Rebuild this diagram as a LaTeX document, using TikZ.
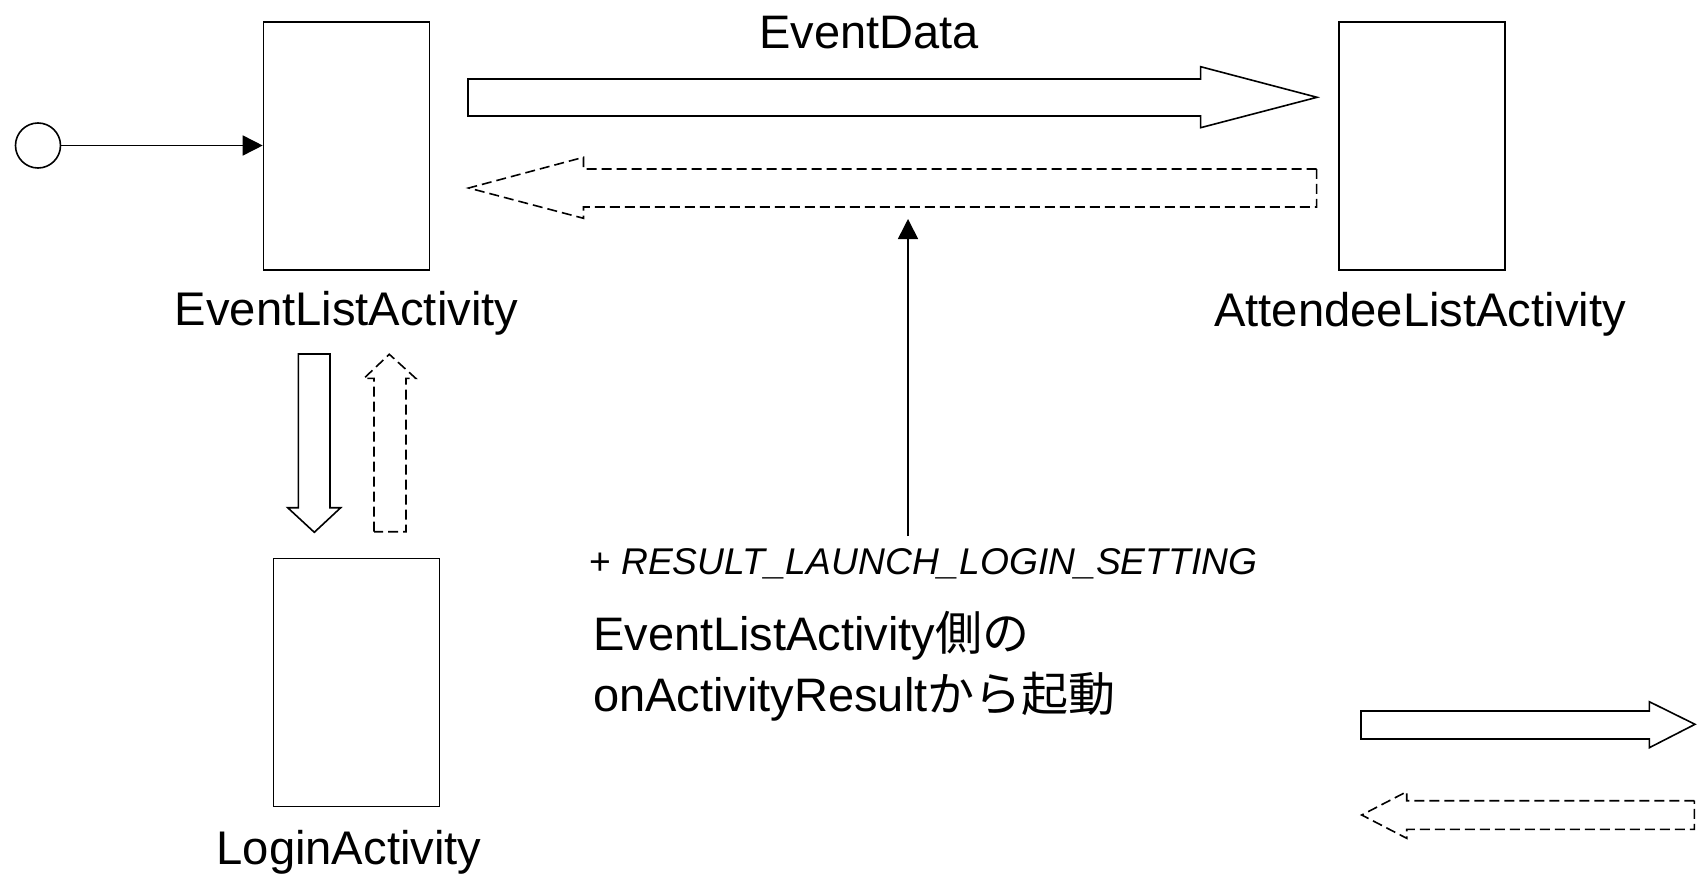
\documentclass[tikz,border=0pt]{standalone}
\usepackage{fontspec}
\setmainfont{Liberation Sans}
\newfontfamily\jp{Noto Sans CJK JP}
\usetikzlibrary{arrows.meta}
\tikzset{
  actbox/.style={draw, line width=1.6pt, minimum width=166pt, minimum height=248pt, inner sep=0pt},
  biglabel/.style={anchor=base, inner sep=0pt, font=\fontsize{47.2}{56}\selectfont},
  fatarrow/.style={draw, line width=1.6pt, line join=miter},
  fatback/.style={draw, line width=1.6pt, dash pattern=on 10pt off 5pt},
  thinarrow/.style={line width=1.6pt, -{Triangle[length=20pt,width=20pt]}},
}
\begin{document}
\begin{tikzpicture}[x=1pt,y=-1pt]
\useasboundingbox (0,0) rectangle (1699,875);

% start state
\node[draw, circle, line width=1.6pt, minimum size=45pt, inner sep=0pt] (start) at (38,145.5) {};

% activity boxes
\node[actbox] (elA) at (346.5,145.8) {};
\node[actbox] (alA) at (1422,145.8) {};
\node[actbox] (loginA) at (356.3,682.5) {};

% labels
\node[biglabel] (elAlabel) at (346.5,325) {EventListActivity};
\node[biglabel] (alAlabel) at (1420,326) {AttendeeListActivity};
\node[biglabel] (loginlabel) at (349,864) {LoginActivity};
\node[biglabel, font=\fontsize{47}{56}\selectfont] (edlabel) at (869,48.5) {EventData};

% start connector
\draw[thinarrow] (start) -- (start -| elA.west);

% EventData fat arrow (right)
\draw[fatarrow] (468,79) -- (1200.6,79) -- (1200.6,66.7) -- (1317,97.3) -- (1200.6,127.7) -- (1200.6,116) -- (468,116) -- cycle;
% return dashed fat arrow (left)
\draw[fatback] (1316.6,169) -- (583.5,169) -- (583.5,157.3) -- (468.7,188) -- (583.5,218.3) -- (583.5,207) -- (1316.6,207) -- cycle;

% down solid fat arrow to LoginActivity
\draw[fatarrow] (298.3,354) -- (330,354) -- (330,507.7) -- (340.7,507.7) -- (314.3,532.3) -- (287.7,507.7) -- (298.3,507.7) -- cycle;
% up dashed fat arrow from LoginActivity
\draw[fatback] (374,531.7) -- (374,378.3) -- (364,378.3) -- (389.3,354.3) -- (415.7,378.3) -- (406,378.3) -- (406,531.7) -- cycle;

% vertical thin arrow
\coordinate (vlow) at (908,536);
\coordinate (vhigh) at (908,219);
\draw[thinarrow] (vlow) -- (vhigh);

% result texts
\node[anchor=base west, inner sep=0pt, font=\fontsize{37.2}{44}\selectfont] (res) at (589,574) {+ \textit{RESULT\_LAUNCH\_LOGIN\_SETTING}};
\node[anchor=base west, inner sep=0pt, font=\fontsize{47}{56}\selectfont] (jp1) at (593,650) {EventListActivity{\jp 側の}};
\node[anchor=base west, inner sep=0pt, font=\fontsize{47}{56}\selectfont] (jp2) at (593,711) {onActivityResult{\jp から起動}};

% legend arrows
\draw[fatarrow] (1361,711) -- (1649.3,711) -- (1649.3,701.7) -- (1695,724.3) -- (1649.3,747.7) -- (1649.3,739) -- (1361,739) -- cycle;
\draw[fatback] (1694.3,800.7) -- (1406.7,800.7) -- (1406.7,791.7) -- (1361.7,815) -- (1406.7,838.3) -- (1406.7,829.3) -- (1694.3,829.3) -- cycle;
\end{tikzpicture}
\end{document}
